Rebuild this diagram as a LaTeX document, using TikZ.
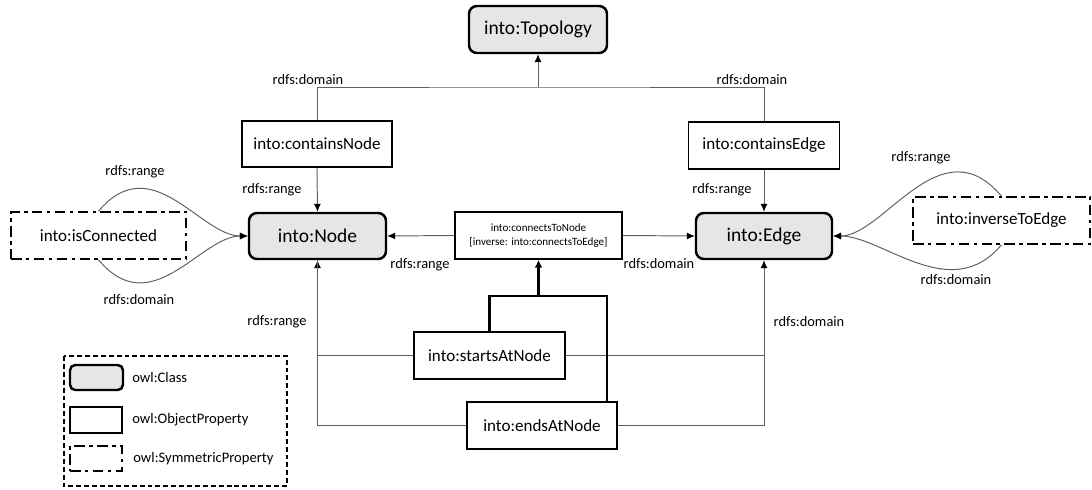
\documentclass[tikz,border=0pt]{standalone}
\usepackage{fontspec}
\setmainfont{Carlito}
\usetikzlibrary{calc}
\usetikzlibrary{arrows,arrows.meta}
\usepackage{xcolor}
\definecolor{classgray}{RGB}{230,230,230}
\definecolor{linegray}{RGB}{95,95,95}
\tikzset{
  classbox/.style={draw,line width=1.4pt,rounded corners=4.5pt,fill=classgray,font=\fontsize{11.1}{13}\selectfont,minimum width=2.74cm,minimum height=0.92cm,inner sep=0pt},
  propbox/.style={draw,line width=0.9pt,fill=white,font=\fontsize{9.7}{11}\selectfont,minimum width=3cm,minimum height=0.94cm,inner sep=0pt},
  symbox/.style={draw,line width=0.9pt,dash pattern=on 6pt off 2.5pt on 2pt off 2.5pt,font=\fontsize{9.7}{11}\selectfont,minimum width=3.5cm,minimum height=0.94cm,inner sep=0pt},
  rel/.style={draw=linegray,line width=0.55pt,>={Latex[length=4.5pt,width=4pt,color=black]}},
  thickrel/.style={draw,line width=1.5pt,>={Latex[length=4.5pt,width=4.5pt]}},
  lbl/.style={font=\fontsize{8.2}{10}\selectfont,inner sep=0pt},
}
\begin{document}
\begin{tikzpicture}
\useasboundingbox (0,0) rectangle (21.84,-9.78);
% classes
\node[classbox,minimum width=2.76cm,minimum height=0.94cm] (topo) at (10.76,-0.59) {into:Topology};
\node[classbox] (node) at (6.35,-4.72) {into:Node};
\node[classbox,minimum width=2.72cm] (edge) at (15.28,-4.72) {into:Edge};
% object properties
\node[propbox,minimum height=0.92cm] (cnode) at (6.34,-2.88) {into:containsNode};
\node[propbox,minimum width=3.02cm] (cedge) at (15.28,-2.91) {into:containsEdge};
\node[propbox,minimum width=3.34cm,align=center,font=\fontsize{6.3}{8.4}\selectfont] (conn) at (10.77,-4.71) {into:connectsToNode\\{[}inverse: into:connectsToEdge{]}};
\node[propbox,minimum width=3.02cm] (starts) at (9.79,-7.11) {into:startsAtNode};
\node[propbox] (ends) at (10.84,-8.51) {into:endsAtNode};
% symmetric properties
\node[symbox] (iscon) at (1.97,-4.71) {into:isConnected};
\node[symbox,minimum width=3.54cm] (inv) at (20.03,-4.41) {into:inverseToEdge};

% topology domain
\coordinate (J) at (10.76,-1.74);
\draw[rel] (cnode.north) |- (J) -| (cedge.north);
\draw[rel,->] (J) -- (topo.south);
\node[lbl] (dom1) at (6.16,-1.6) {rdfs:domain};
\node[lbl] (dom2) at (15.04,-1.6) {rdfs:domain};

% contains ranges
\draw[rel,->] (cnode.south) -- (node.north);
\draw[rel,->] (cedge.south) -- (edge.north);
\node[lbl] (rng1) at (5.44,-3.8) {rdfs:range};
\node[lbl] (rng2) at (14.44,-3.8) {rdfs:range};

% connectsToNode
\draw[rel,->] (conn.west) -- (node.east);
\draw[rel,->] (conn.east) -- (edge.west);
\node[lbl] (rng3) at (8.4,-5.3) {rdfs:range};
\node[lbl] (dom3) at (13.18,-5.28) {rdfs:domain};

% startsAtNode / endsAtNode
\draw[rel,->] (starts.west) -| (node.south);
\draw[rel,->] (starts.east) -| (edge.south);
\draw[rel] (ends.west) -| (node.south);
\draw[rel] (ends.east) -| (starts.east -| edge.south);
\node[lbl] (rng4) at (5.54,-6.44) {rdfs:range};
\node[lbl] (dom4) at (16.18,-6.44) {rdfs:domain};

% subproperties of connectsToNode
\coordinate (B) at (12.14,-5.92);
\draw[thickrel] (starts.north) |- (B) -- (ends.north -| B);
\draw[thickrel,->] (conn.south |- B) -- (conn.south);

% isConnected
\draw[rel,->] (iscon.north) to[out=50,in=180,out looseness=1.4,in looseness=0.8] (node.west);
\draw[rel,->] (iscon.south) to[out=-50,in=180,out looseness=1.4,in looseness=0.8] (node.west);
\node[lbl] (rng5) at (2.7,-3.44) {rdfs:range};
\node[lbl] (dom5) at (2.78,-6.0) {rdfs:domain};

% inverseToEdge
\draw[rel,->] (inv.north) to[out=130,in=0,out looseness=1.4,in looseness=0.75] (edge.east);
\draw[rel,->] (inv.south) to[out=230,in=0,out looseness=1.2,in looseness=0.75] (edge.east);
\node[lbl] (rng6) at (18.42,-3.16) {rdfs:range};
\node[lbl] (dom6) at (19.12,-5.6) {rdfs:domain};

% legend
\draw[line width=0.8pt,dash pattern=on 2.8pt off 1.7pt] (1.28,-7.12) rectangle (5.74,-9.72);
\node[classbox,minimum width=1.06cm,minimum height=0.5cm,rounded corners=3pt] (lgclass) at (1.93,-7.55) {};
\node[propbox,minimum width=1.04cm,minimum height=0.52cm] (lgprop) at (1.92,-8.4) {};
\node[symbox,minimum width=1.04cm,minimum height=0.5cm] (lgsym) at (1.92,-9.17) {};
\node[lbl,anchor=west,font=\fontsize{8.3}{10}\selectfont] (lgclasst) at (2.64,-7.54) {owl:Class};
\node[lbl,anchor=west,font=\fontsize{8.3}{10}\selectfont] (lgpropt) at (2.64,-8.4) {owl:ObjectProperty};
\node[lbl,anchor=west,font=\fontsize{8.3}{10}\selectfont] (lgsymt) at (2.66,-9.18) {owl:SymmetricProperty};
\end{tikzpicture}
\end{document}
